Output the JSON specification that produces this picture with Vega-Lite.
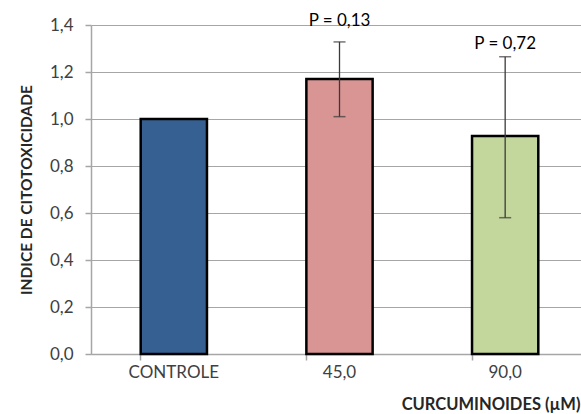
{
  "$schema": "https://vega.github.io/schema/vega-lite/v6.json",
  "autosize": "none",
  "width": 497,
  "height": 329,
  "padding": {"left": 91, "top": 25, "right": 0, "bottom": 60},
  "background": "white",
  "config": {
    "font": "Lato",
    "view": {"stroke": null},
    "locale": {"number": {"decimal": ",", "thousands": ".", "grouping": [3], "currency": ["", " €"]}}
  },
  "data": {
    "values": [
      {"grupo": "CONTROLE", "indice": 1.0, "lo": null, "hi": null, "p": null, "py": null},
      {"grupo": "45,0", "indice": 1.17, "lo": 1.01, "hi": 1.328, "p": "P = 0,13", "py": 1.417},
      {"grupo": "90,0", "indice": 0.928, "lo": 0.58, "hi": 1.265, "p": "P = 0,72", "py": 1.32}
    ]
  },
  "resolve": {"axis": {"x": "independent"}},
  "layer": [
    {
      "mark": {"type": "bar", "stroke": "black", "strokeWidth": 2.5},
      "encoding": {
        "x": {
          "field": "grupo", "type": "nominal", "sort": null,
          "scale": {"paddingInner": 0.6, "paddingOuter": 0.3},
          "axis": {
            "orient": "bottom",
            "title": "CURCUMINOIDES (µM)",
            "titleFont": "Lato", "titleFontSize": 16.5, "titleFontWeight": "bold", "titleColor": "#262626",
            "titleAlign": "right", "titleX": 489, "titleY": 50, "titleBaseline": "middle",
            "labelFontSize": 17, "labelColor": "#404040", "labelPadding": 10,
            "labelAngle": 0, "ticks": false,
            "domainColor": "#a6a6a6", "domainWidth": 1.5, "grid": false
          }
        },
        "y": {
          "field": "indice", "type": "quantitative",
          "scale": {"domain": [0, 1.4]},
          "axis": {
            "title": "INDICE DE CITOTOXICIDADE",
            "titleFontSize": 15.5, "titleFontWeight": "bold", "titleColor": "#262626", "titlePadding": 15,
            "values": [0, 0.2, 0.4, 0.6, 0.8, 1.0, 1.2, 1.4],
            "format": ".1f",
            "labelFontSize": 17, "labelColor": "#404040", "labelPadding": 12,
            "tickSize": 6, "tickColor": "#a6a6a6", "tickWidth": 1.5,
            "domainColor": "#a6a6a6", "domainWidth": 1.5,
            "grid": true, "gridColor": "#a6a6a6", "gridWidth": 1.2
          }
        },
        "color": {
          "field": "grupo", "type": "nominal", "sort": null, "legend": null,
          "scale": {"domain": ["CONTROLE", "45,0", "90,0"], "range": ["#376092", "#d99594", "#c3d69b"]}
        }
      }
    },
    {
      "mark": {"type": "rule", "color": "#3a3a3a", "strokeWidth": 1.3},
      "encoding": {
        "x": {
          "field": "grupo", "type": "nominal", "sort": null,
          "axis": {
            "orient": "bottom",
            "title": null, "labels": false, "domain": false, "grid": false,
            "ticks": true, "bandPosition": 0, "tickSize": 6, "tickColor": "#a6a6a6", "tickWidth": 1.5
          }
        },
        "y": {"field": "lo", "type": "quantitative"},
        "y2": {"field": "hi"}
      }
    },
    {
      "mark": {"type": "tick", "color": "#3a3a3a", "size": 12, "thickness": 1.5},
      "encoding": {
        "x": {"field": "grupo", "type": "nominal", "sort": null, "axis": null},
        "y": {"field": "lo", "type": "quantitative"}
      }
    },
    {
      "mark": {"type": "tick", "color": "#3a3a3a", "size": 12, "thickness": 1.5},
      "encoding": {
        "x": {"field": "grupo", "type": "nominal", "sort": null, "axis": null},
        "y": {"field": "hi", "type": "quantitative"}
      }
    },
    {
      "mark": {"type": "text", "fontSize": 17, "color": "#000000", "baseline": "middle"},
      "encoding": {
        "x": {"field": "grupo", "type": "nominal", "sort": null, "axis": null},
        "y": {"field": "py", "type": "quantitative"},
        "text": {"field": "p"}
      }
    }
  ]
}
